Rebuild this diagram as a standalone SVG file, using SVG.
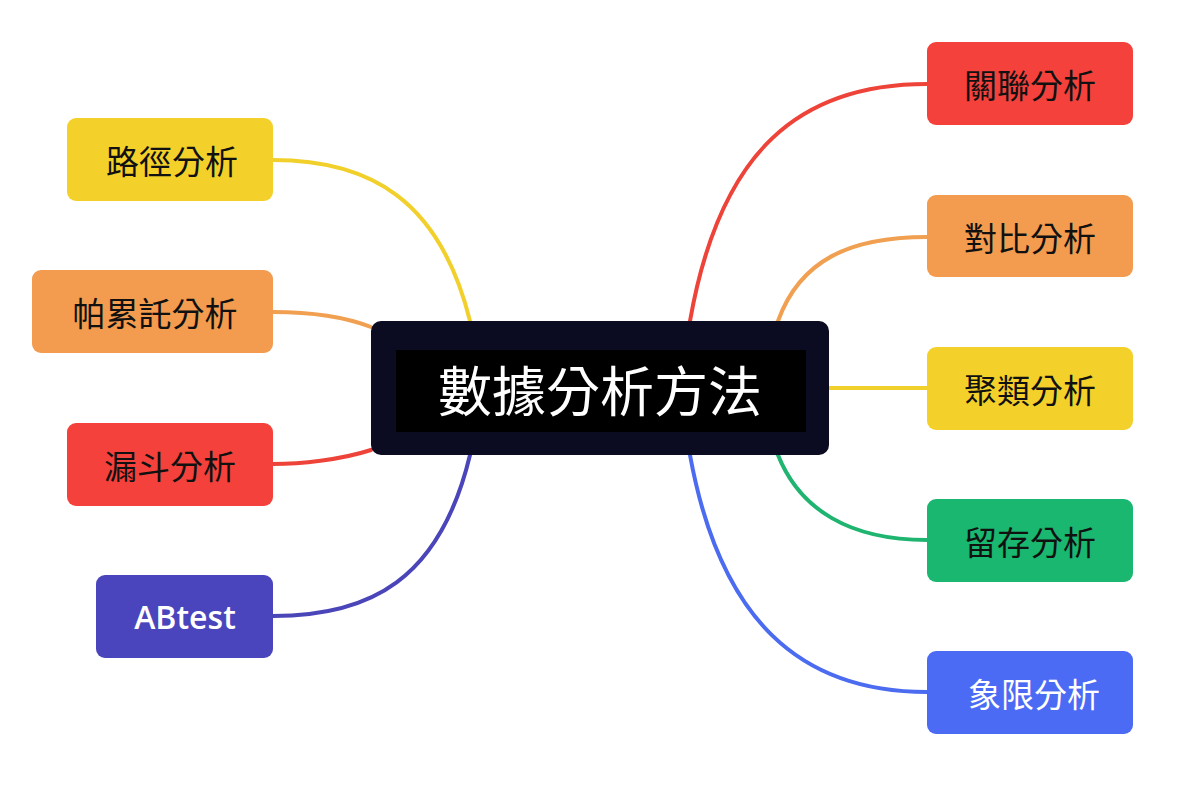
<svg xmlns="http://www.w3.org/2000/svg" width="1187" height="791" viewBox="0 0 1187 791">
<style>
.n{stroke:none}
.t{font-family:"Noto Sans CJK TC","Noto Sans CJK SC",sans-serif;font-size:33px;text-anchor:middle;dominant-baseline:central;fill:#111}
.c{fill:none;stroke-width:4;stroke-linecap:round}
</style>
<rect width="1187" height="791" fill="#ffffff"/>
<g id="connectors">
<path class="c" stroke="#ee4339" d="M690 321 C720 150 800 84 927 84"/>
<path class="c" stroke="#f0a050" d="M778 321 C800 260 850 237 927 237"/>
<path class="c" stroke="#f2d02c" d="M829 388 L927 388"/>
<path class="c" stroke="#1fb570" d="M778 455 C800 510 850 540 927 540"/>
<path class="c" stroke="#4b6bf0" d="M690 455 C720 620 800 692 927 692"/>
<path class="c" stroke="#f2d02c" d="M470 321 C440 200 370 160 273 160"/>
<path class="c" stroke="#f0a050" d="M371 327 C340 315 300 312 273 312"/>
<path class="c" stroke="#ee4339" d="M371 450 C340 460 300 464 273 464"/>
<path class="c" stroke="#4a45b8" d="M470 455 C440 580 370 616 273 616"/>
</g>
<g id="center">
<rect x="371" y="321" width="458" height="134" rx="10" fill="#0b0b22"/>
<rect x="396" y="350" width="410" height="82" fill="#000"/>
<text x="600" y="388" class="t" style="font-size:54px;fill:#fff">數據分析方法</text>
</g>
<g id="r1"><rect x="927" y="42" width="206" height="83" rx="9" fill="#f5413b"/><text x="1030" y="84" class="t">關聯分析</text></g>
<g id="r2"><rect x="927" y="195" width="206" height="82" rx="9" fill="#f39b4e"/><text x="1030" y="237" class="t">對比分析</text></g>
<g id="r3"><rect x="927" y="347" width="206" height="83" rx="9" fill="#f4d12a"/><text x="1030" y="389" class="t">聚類分析</text></g>
<g id="r4"><rect x="927" y="499" width="206" height="83" rx="9" fill="#19b76f"/><text x="1030" y="541" class="t">留存分析</text></g>
<g id="r5"><rect x="927" y="651" width="206" height="83" rx="9" fill="#4b6bf5"/><text x="1034" y="693" class="t" style="fill:#fff">象限分析</text></g>
<g id="l1"><rect x="67" y="118" width="206" height="83" rx="9" fill="#f4d12a"/><text x="172" y="160" class="t">路徑分析</text></g>
<g id="l2"><rect x="32" y="270" width="241" height="83" rx="9" fill="#f39b4e"/><text x="155" y="312" class="t">帕累託分析</text></g>
<g id="l3"><rect x="67" y="423" width="206" height="83" rx="9" fill="#f5413b"/><text x="170" y="465" class="t">漏斗分析</text></g>
<g id="l4"><rect x="96" y="575" width="177" height="83" rx="9" fill="#4a45bd"/><text x="185" y="616" class="t" style="fill:#fff;font-family:'Open Sans','Liberation Sans',sans-serif;font-size:32px;font-weight:600">ABtest</text></g>
</svg>
